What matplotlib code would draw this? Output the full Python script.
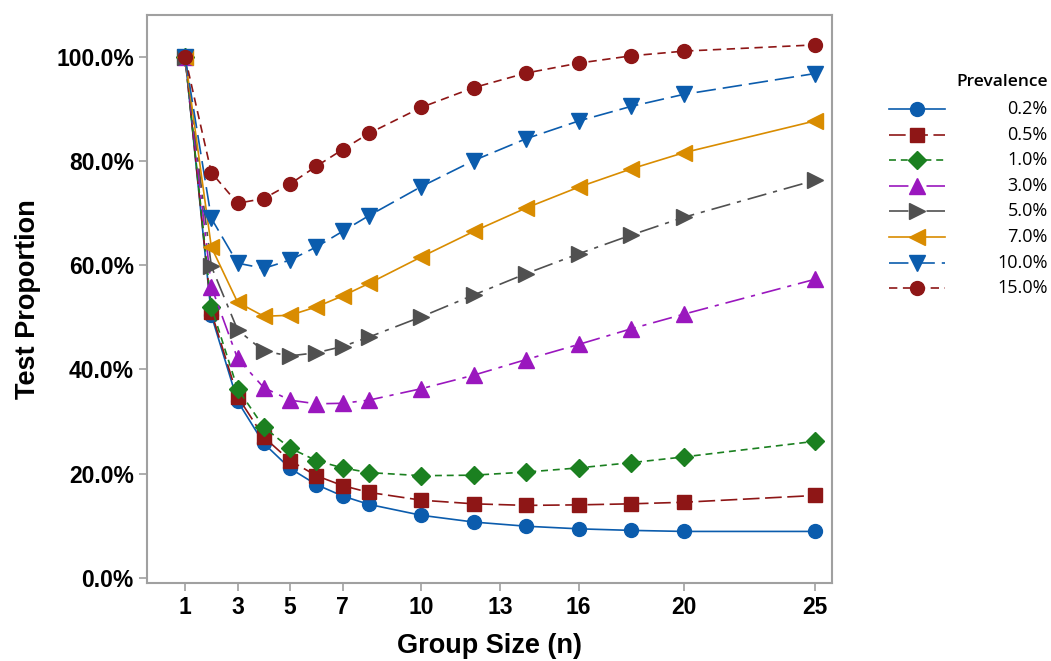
import matplotlib
matplotlib.use("Agg")
import matplotlib.pyplot as plt
from matplotlib.lines import Line2D
from matplotlib.ticker import FuncFormatter

# group sizes on the x axis
group_size = [1, 2, 3, 4, 5, 6, 7, 8, 10, 12, 14, 16, 18, 20, 25]

# test proportion (%) for each prevalence
prev_02 = [100.0, 50.4, 33.9, 25.8, 21.0, 17.9, 15.7, 14.1, 12.0, 10.7, 9.9, 9.4, 9.1, 8.9, 8.9]
prev_05 = [100.0, 51.0, 34.8, 27.0, 22.5, 19.6, 17.7, 16.4, 14.9, 14.2, 13.9, 14.0, 14.2, 14.5, 15.8]
prev_10 = [100.0, 52.0, 36.3, 28.9, 24.9, 22.5, 21.1, 20.2, 19.6, 19.7, 20.3, 21.1, 22.1, 23.2, 26.2]
prev_30 = [100.0, 55.9, 42.1, 36.5, 34.1, 33.4, 33.5, 34.1, 36.3, 38.9, 41.9, 44.8, 47.8, 50.6, 57.3]
prev_50 = [100.0, 59.8, 47.6, 43.5, 42.6, 43.2, 44.4, 46.2, 50.1, 54.3, 58.4, 62.2, 65.8, 69.2, 76.3]
prev_70 = [100.0, 63.5, 52.9, 50.2, 50.4, 52.0, 54.1, 56.5, 61.6, 66.5, 71.0, 75.0, 78.5, 81.6, 87.7]
prev_100 = [100.0, 69.0, 60.4, 59.4, 61.0, 63.5, 66.5, 69.5, 75.1, 80.1, 84.3, 87.7, 90.5, 92.8, 96.8]
prev_150 = [100.0, 77.8, 71.9, 72.8, 75.6, 79.0, 82.2, 85.3, 90.3, 94.1, 96.9, 98.8, 100.2, 101.1, 102.3]

labels = ["0.2%", "0.5%", "1.0%", "3.0%", "5.0%", "7.0%", "10.0%", "15.0%"]
series = [prev_02, prev_05, prev_10, prev_30, prev_50, prev_70, prev_100, prev_150]

x_ticks = [1, 3, 5, 7, 10, 13, 16, 20, 25]
y_ticks = [0, 20, 40, 60, 80, 100]

blue = "#0B5CAD"
red = "#8E1616"
styles = [
    dict(color=blue, marker="o", ms=10, ls="-"),
    dict(color=red, marker="s", ms=9.5, ls=(0, (12, 4))),
    dict(color="#1B8020", marker="D", ms=9, ls=(0, (5, 3.5))),
    dict(color="#9A17BE", marker="^", ms=11.5, ls=(0, (14, 5, 3, 5))),
    dict(color="#505050", marker=">", ms=11.5, ls=(0, (14, 5, 3, 5))),
    dict(color="#D98C00", marker="<", ms=11.5, ls="-"),
    dict(color=blue, marker="v", ms=11.5, ls=(0, (14, 5))),
    dict(color=red, marker="o", ms=10, ls=(0, (6, 4))),
]

plt.rcParams["lines.scale_dashes"] = False
plt.rcParams["font.family"] = ["Liberation Sans", "DejaVu Sans"]

fig = plt.figure(figsize=(10.51, 6.61), dpi=100)
ax = fig.add_axes([0.1399, 0.118, 0.6517, 0.859])

for vals, st in zip(series, styles):
    ax.plot(group_size, vals, color=st["color"], ls=st["ls"], lw=1.2,
            marker=st["marker"], ms=st["ms"], mec=st["color"], mfc=st["color"])

ax.set_xlim(-0.45, 25.65)
ax.set_ylim(-1.0, 108.0)
ax.set_xticks(x_ticks)
ax.set_yticks(y_ticks)
ax.yaxis.set_major_formatter(FuncFormatter(lambda v, pos: f"{v:.1f}%"))

for sp in ax.spines.values():
    sp.set_color("#A0A0A0")
    sp.set_linewidth(1.5)
ax.tick_params(axis="both", colors="#A0A0A0", length=6, width=1.2,
               labelcolor="black", labelsize=16.5)
for t in ax.get_xticklabels() + ax.get_yticklabels():
    t.set_fontweight("bold")

ax.set_xlabel("Group Size (n)", fontsize=19.5, fontweight="bold", labelpad=10)
ax.set_ylabel("Test Proportion", fontsize=19.5, fontweight="bold", labelpad=11)

# legend drawn at the right, with right-aligned labels
leg_font = ["Open Sans", "DejaVu Sans"]
fig.text(0.997, 0.876, "Prevalence", ha="right", va="center", fontsize=12.5,
         fontweight="semibold", family=leg_font)
x0, x1 = 889 / 1051, 945 / 1051
xm = (x0 + x1) / 2
for i, (lab, st) in enumerate(zip(labels, styles)):
    yy = 1 - (109 + i * 25.6) / 661
    fig.add_artist(Line2D([x0, xm, x1], [yy, yy, yy], transform=fig.transFigure,
                          color=st["color"], ls=st["ls"], lw=1.2,
                          marker=st["marker"], ms=st["ms"], markevery=[1],
                          mec=st["color"], mfc=st["color"]))
    fig.text(0.997, yy, lab, ha="right", va="center", fontsize=13, family=leg_font)

fig.savefig("out.png", dpi=100)
